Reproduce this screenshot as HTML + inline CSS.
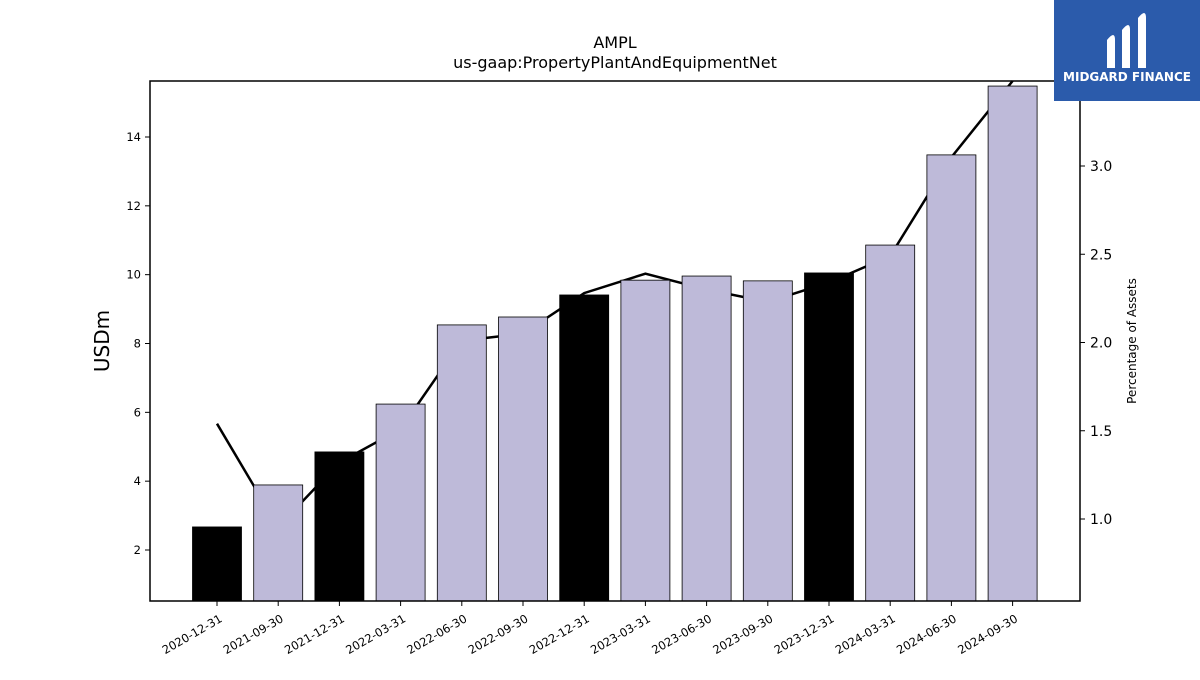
<!DOCTYPE html>
<html><head><meta charset="utf-8"><style>
body{margin:0;background:#fff;font-family:"Liberation Sans","DejaVu Sans",sans-serif}
svg text{font-family:"DejaVu Sans","Liberation Sans",sans-serif}
</style></head><body>
<svg id="c" width="1200" height="675" xmlns="http://www.w3.org/2000/svg">
<rect width="1200" height="675" fill="#fff"/>
<text x="615" y="48" text-anchor="middle" font-size="16">AMPL</text>
<text x="615" y="68" text-anchor="middle" font-size="16">us-gaap:PropertyPlantAndEquipmentNet</text>
<g id="plot"></g>
<text transform="translate(109,341) rotate(-90)" text-anchor="middle" font-size="20">USDm</text>
<text transform="translate(1136,341) rotate(-90)" text-anchor="middle" font-size="12">Percentage of Assets</text>
<g>
<rect x="1054" y="0" width="146" height="101" fill="#2b5bab"/>
<path d="M1107 40 q8-10 8 0 v28 h-8z M1122 30 q8-10 8 0 v38 h-8z M1138 18 q8-10 8 0 v50 h-8z" fill="#fff"/>
<text x="1127" y="81" text-anchor="middle" font-size="12" font-weight="bold" fill="#fff">MIDGARD FINANCE</text>
</g>
</svg>
<script>
const categories=["2020-12-31","2021-09-30","2021-12-31","2022-03-31","2022-06-30","2022-09-30","2022-12-31","2023-03-31","2023-06-30","2023-09-30","2023-12-31","2024-03-31","2024-06-30","2024-09-30"];
const values=[2.67,3.89,4.85,6.24,8.54,8.77,9.41,9.84,9.96,9.82,10.05,10.86,13.48,15.48];
const pct=[1.54,0.955,1.32,1.51,2.01,2.05,2.28,2.39,2.30,2.23,2.34,2.49,3.05,3.50];
const leftTicks=[2,4,6,8,10,12,14];
const rightTicks=[1.0,1.5,2.0,2.5,3.0];
const NS="http://www.w3.org/2000/svg";
const L=150,R=1080,T=81,B=601;
const y1=v=>550-(v-2)*(413/12);
const y2=v=>519-(v-1)*176.5;
const step=(R-L-68)/(categories.length-1);
const x=i=>217+i*61.2;
const g=document.getElementById('plot');
function mk(t,a){const e=document.createElementNS(NS,t);for(const k in a)e.setAttribute(k,a[k]);g.appendChild(e);return e;}
// line
let d=pct.map((p,i)=>(i?'L':'M')+x(i)+' '+Math.max(y2(p),T)).join(' ');
const ln=mk('path',{d:d,fill:'none',stroke:'#000','stroke-width':2.5});


values.forEach((v,i)=>{
 const blk=categories[i].endsWith('12-31');
 const r=mk('rect',{x:x(i)-24.5,y:y1(v),width:49,height:B-y1(v),fill:blk?'#000':'#bebad9',stroke:'#000','stroke-width':0.8});
 
 
 const tk=mk('line',{x1:x(i),x2:x(i),y1:B,y2:B+5,stroke:'#000'});
 const t=mk('text',{transform:`translate(${x(i)+6},${B+20}) rotate(-30)`,'text-anchor':'end','font-size':11.5});
 t.textContent=categories[i];
 
 
});
leftTicks.forEach(v=>{
 mk('line',{x1:L-5,x2:L,y1:y1(v),y2:y1(v),stroke:'#000'});
 const t=mk('text',{x:L-9,y:y1(v)+4,'text-anchor':'end','font-size':11.5});
 t.textContent=v;
 
 
});
rightTicks.forEach(v=>{
 mk('line',{x1:R,x2:R+5,y1:y2(v),y2:y2(v),stroke:'#000'});
 const t=mk('text',{x:R+10,y:y2(v)+5,'font-size':14});
 t.textContent=v.toFixed(1);
 
 
});
const fr=mk('rect',{x:L,y:T,width:R-L,height:B-T,fill:'none',stroke:'#000','stroke-width':1.5});


</script>
</body></html>
